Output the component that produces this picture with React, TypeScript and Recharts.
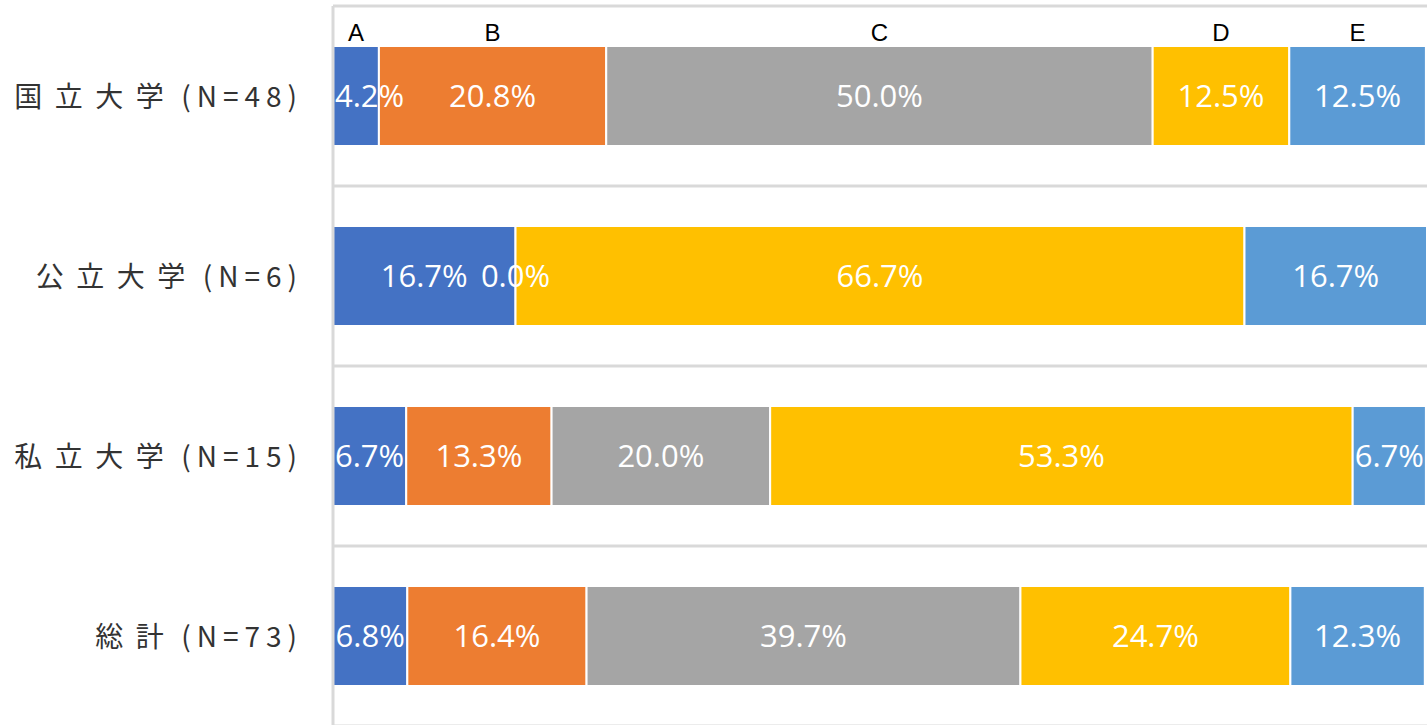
import React from 'react';
import { BarChart, Bar, XAxis, YAxis, CartesianGrid, LabelList } from 'recharts';

const categories = ['国立大学', '公立大学', '私立大学', '総計'];
const counts = [48, 6, 15, 73];
const seriesNames = ['A', 'B', 'C', 'D', 'E'];
const seriesA = [4.2, 16.7, 6.7, 6.8];
const seriesB = [20.8, 0.0, 13.3, 16.4];
const seriesC: (number | null)[] = [50.0, null, 20.0, 39.7];
const seriesD = [12.5, 66.7, 53.3, 24.7];
const seriesE = [12.5, 16.7, 6.7, 12.3];
const colors = ['#4472C4', '#ED7D31', '#A5A5A5', '#FFC000', '#5B9BD5'];

const seriesValues = [seriesA, seriesB, seriesC, seriesD, seriesE];

const data = categories.map((c, i) => {
  const row: any = { name: c, n: counts[i] };
  seriesNames.forEach((s, j) => {
    row[s] = seriesValues[j][i];
  });
  return row;
});

const LABEL_FONT = 31;
const charW: Record<string, number> = { '.': 0.266, '%': 0.824 };
const estWidth = (t: string) =>
  t.split('').reduce((a, ch) => a + (charW[ch] ?? 0.572), 0) * LABEL_FONT;

const CategoryTick = (props: any) => {
  const { x, y, payload } = props;
  const idx = categories.indexOf(payload.value);
  const n = counts[idx];
  return (
    <text
      x={x}
      y={y}
      dx={-22}
      dy={11}
      textAnchor="end"
      fill="#333333"
      fontFamily="'Noto Sans CJK JP', 'Noto Sans', sans-serif"
      fontSize={28}
    >
      <tspan letterSpacing={12.5}>{payload.value}</tspan>
      <tspan letterSpacing={6} dx={5}>{`(N=${n})`}</tspan>
    </text>
  );
};

const makeValueLabel = (isFirst: boolean) => (props: any) => {
  const { x, y, width, height, value } = props;
  if (value === null || value === undefined) return null;
  const txt = `${Number(value).toFixed(1)}%`;
  const w = estWidth(txt);
  let cx = Number(x) + Number(width) / 2;
  if (isFirst && cx - w / 2 < Number(x) + 2) {
    cx = Number(x) + 2 + w / 2;
  }
  return (
    <text
      x={cx}
      y={Number(y) + Number(height) / 2}
      dy={11}
      textAnchor="middle"
      fill="#FFFFFF"
      fontFamily="'Open Sans', sans-serif"
      fontSize={LABEL_FONT}
    >
      {txt}
    </text>
  );
};

const makeNameLabel = (name: string) => (props: any) => {
  const { x, y, width, index } = props;
  if (index !== 0) return null;
  return (
    <text
      x={Number(x) + Number(width) / 2}
      y={Number(y)}
      dy={-5}
      textAnchor="middle"
      fill="#000000"
      fontFamily="'Liberation Sans', Arial, sans-serif"
      fontSize={24}
    >
      {name}
    </text>
  );
};

const gridGen = (args: any) => {
  const off = args?.offset ?? { top: 0, height: 0 };
  return categories
    .map((_, i) => off.top + (off.height * i) / categories.length)
    .concat([off.top + off.height]);
};

export default function App() {
  return (
    <div
      style={{
        position: 'fixed',
        left: 0,
        top: 0,
        width: 1428,
        height: 725,
        overflow: 'hidden',
        background: '#fff',
      }}
    >
      <BarChart
        width={1428}
        height={732}
        data={data}
        layout="vertical"
        margin={{ top: 6, right: 1, bottom: 6, left: 0 }}
        barSize={100}
      >
        <CartesianGrid
          vertical={false}
          stroke="#D9D9D9"
          strokeWidth={3}
          horizontalCoordinatesGenerator={gridGen}
        />
        <XAxis type="number" domain={[0, 100]} hide />
        <YAxis
          type="category"
          dataKey="name"
          width={333}
          axisLine={{ stroke: '#D9D9D9', strokeWidth: 3 }}
          tickLine={false}
          tick={<CategoryTick />}
          interval={0}
        />
        <YAxis yAxisId="overlay" type="category" dataKey="name" hide />
        {seriesNames.map((s, j) => (
          <Bar
            key={s}
            dataKey={s}
            stackId="a"
            fill={colors[j]}
            stroke="#FFFFFF"
            strokeWidth={2}
            isAnimationActive={false}
          />
        ))}
        {seriesNames.map((s, j) => (
          <Bar
            key={`ov-${s}`}
            yAxisId="overlay"
            dataKey={s}
            stackId="ov"
            fill="transparent"
            stroke="none"
            minPointSize={0.01}
            isAnimationActive={false}
            legendType="none"
          >
            <LabelList dataKey={s} content={makeValueLabel(j === 0)} />
            <LabelList dataKey={s} content={makeNameLabel(s)} />
          </Bar>
        ))}
      </BarChart>
    </div>
  );
}
